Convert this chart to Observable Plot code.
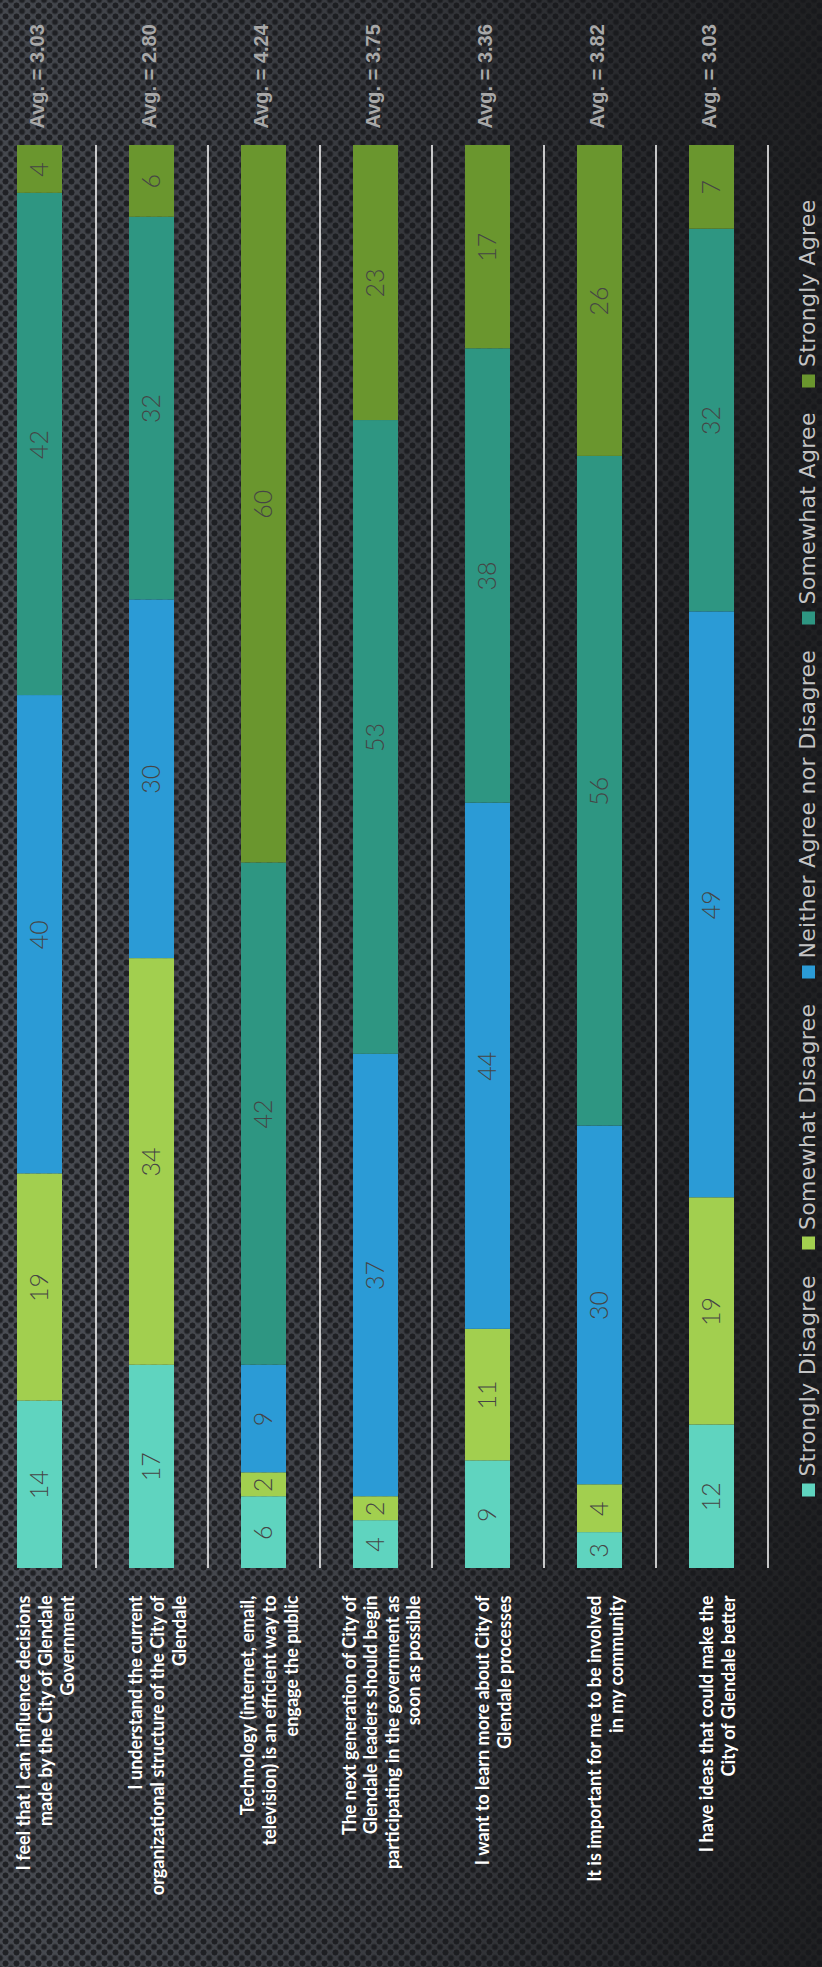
<!DOCTYPE html>
<html>
<head>
<meta charset="utf-8">
<script src="https://cdn.jsdelivr.net/npm/d3@7"></script>
<script src="https://cdn.jsdelivr.net/npm/@observablehq/plot@0.6"></script>
<style>
  html, body { margin: 0; padding: 0; }
  body {
    width: 822px; height: 1967px; position: relative; overflow: hidden;
    background:
      radial-gradient(circle, rgba(22,23,26,0.8) 0 2.7px, transparent 3.3px) 0 0 / 11px 11px,
      radial-gradient(circle, rgba(22,23,26,0.8) 0 2.7px, transparent 3.3px) 5.5px 5.5px / 11px 11px,
      radial-gradient(ellipse 70% 45% at 8% 72%, rgba(80,83,90,0.55), rgba(80,83,90,0) 100%),
      linear-gradient(to right, #45484e 0%, #37393e 45%, #242528 85%, #1f2022 100%);
  }
  #chart { position: absolute; left: 0; top: 0; }
  #legend {
    position: absolute; left: 808px; top: 848px; width: 1297px; height: 22px; line-height: 22px;
    transform: translate(-50%, -50%) rotate(-90deg);
    white-space: nowrap; font-family: "DejaVu Sans", sans-serif; font-weight: 400;
    font-size: 22px; letter-spacing: 0.3px; color: #c4c4c4;
    display: flex; justify-content: space-between; align-items: center;
  }
  #legend .item { display: inline-flex; align-items: center; }
  #legend .sw { width: 13px; height: 13px; margin-right: 7px; display: inline-block; }
</style>
</head>
<body>
<div id="chart"></div>
<div id="legend"></div>
<script>
// Survey statements (line breaks as in the reference)
const questions = [
  "I feel that I can influence decisions\nmade by the City of Glendale\nGovernment",
  "I understand the current\norganizational structure of the City of\nGlendale",
  "Technology (internet, email,\ntelevision) is an efficient way to\nengage the public",
  "The next generation of City of\nGlendale leaders should begin\nparticipating in the government as\nsoon as possible",
  "I want to learn more about City of\nGlendale processes",
  "It is important for me to be involved\nin my community",
  "I have ideas that could make the\nCity of Glendale better"
];
const levels = ["Strongly Disagree", "Somewhat Disagree", "Neither Agree nor Disagree", "Somewhat Agree", "Strongly Agree"];
const levelColors = ["#5fd4bf", "#a2cf4f", "#2b9bd6", "#2e9682", "#6a962e"];

const stronglyDisagree = [14, 17, 6, 4, 9, 3, 12];
const somewhatDisagree = [19, 34, 2, 2, 11, 4, 19];
const neither          = [40, 30, 9, 37, 44, 30, 49];
const somewhatAgree    = [42, 32, 42, 53, 38, 56, 32];
const stronglyAgree    = [4, 6, 60, 23, 17, 26, 7];
const averages = ["3.03", "2.80", "4.24", "3.75", "3.36", "3.82", "3.03"];

const series = [stronglyDisagree, somewhatDisagree, neither, somewhatAgree, stronglyAgree];
const data = [];
questions.forEach((q, i) => {
  series.forEach((s, j) => data.push({q, level: levels[j], value: s[i]}));
});
const totals = questions.map((q, i) => ({q, total: d3.sum(series, s => s[i]), avg: averages[i]}));
const maxTotal = d3.max(totals, d => d.total);

const chart = Plot.plot({
  width: 822,
  height: 1967,
  margin: 0,
  style: {background: "transparent", overflow: "visible"},
  x: {domain: questions, range: [-17, 768], paddingInner: 0.598, paddingOuter: 0.299, axis: null},
  y: {domain: [0, maxTotal], range: [1568, 145], axis: null},
  color: {domain: levels, range: levelColors},
  marks: [
    Plot.ruleX(questions, {x: d => d, y1: 0, y2: maxTotal, stroke: "#f2f2f2", strokeWidth: 1.6, dx: 56}),
    Plot.barY(data, {x: "q", y: "value", fill: "level"}),
    Plot.text(data, Plot.stackY({
      x: "q", y: "value", text: d => String(d.value), rotate: -90,
      fill: "#454545", fontSize: 25, fontWeight: 300, fontFamily: "Lato, 'Open Sans', sans-serif"
    })),
    Plot.text(totals, {
      x: "q", y: "total", text: d => `Avg. = ${d.avg}`, rotate: -90, textAnchor: "start",
      dy: -17, dx: -2, fill: "#a8a8a8", fontSize: 20, fontWeight: "bold",
      fontFamily: "'Liberation Sans', Arial, sans-serif"
    }),
    Plot.text(totals, {
      x: "q", y: () => 0, text: "q", rotate: -90, textAnchor: "end", lineAnchor: "middle",
      lineHeight: 1.2, dy: 27, dx: 5, fill: "#ffffff", fontSize: 18, fontWeight: "bold",
      fontFamily: "Lato, 'Open Sans', sans-serif"
    })
  ]
});
document.getElementById("chart").append(chart);

const legend = document.getElementById("legend");
levels.forEach((l, i) => {
  const item = document.createElement("span");
  item.className = "item";
  const sw = document.createElement("span");
  sw.className = "sw";
  sw.style.background = levelColors[i];
  item.append(sw, document.createTextNode(l));
  legend.append(item);
});
</script>
</body>
</html>
